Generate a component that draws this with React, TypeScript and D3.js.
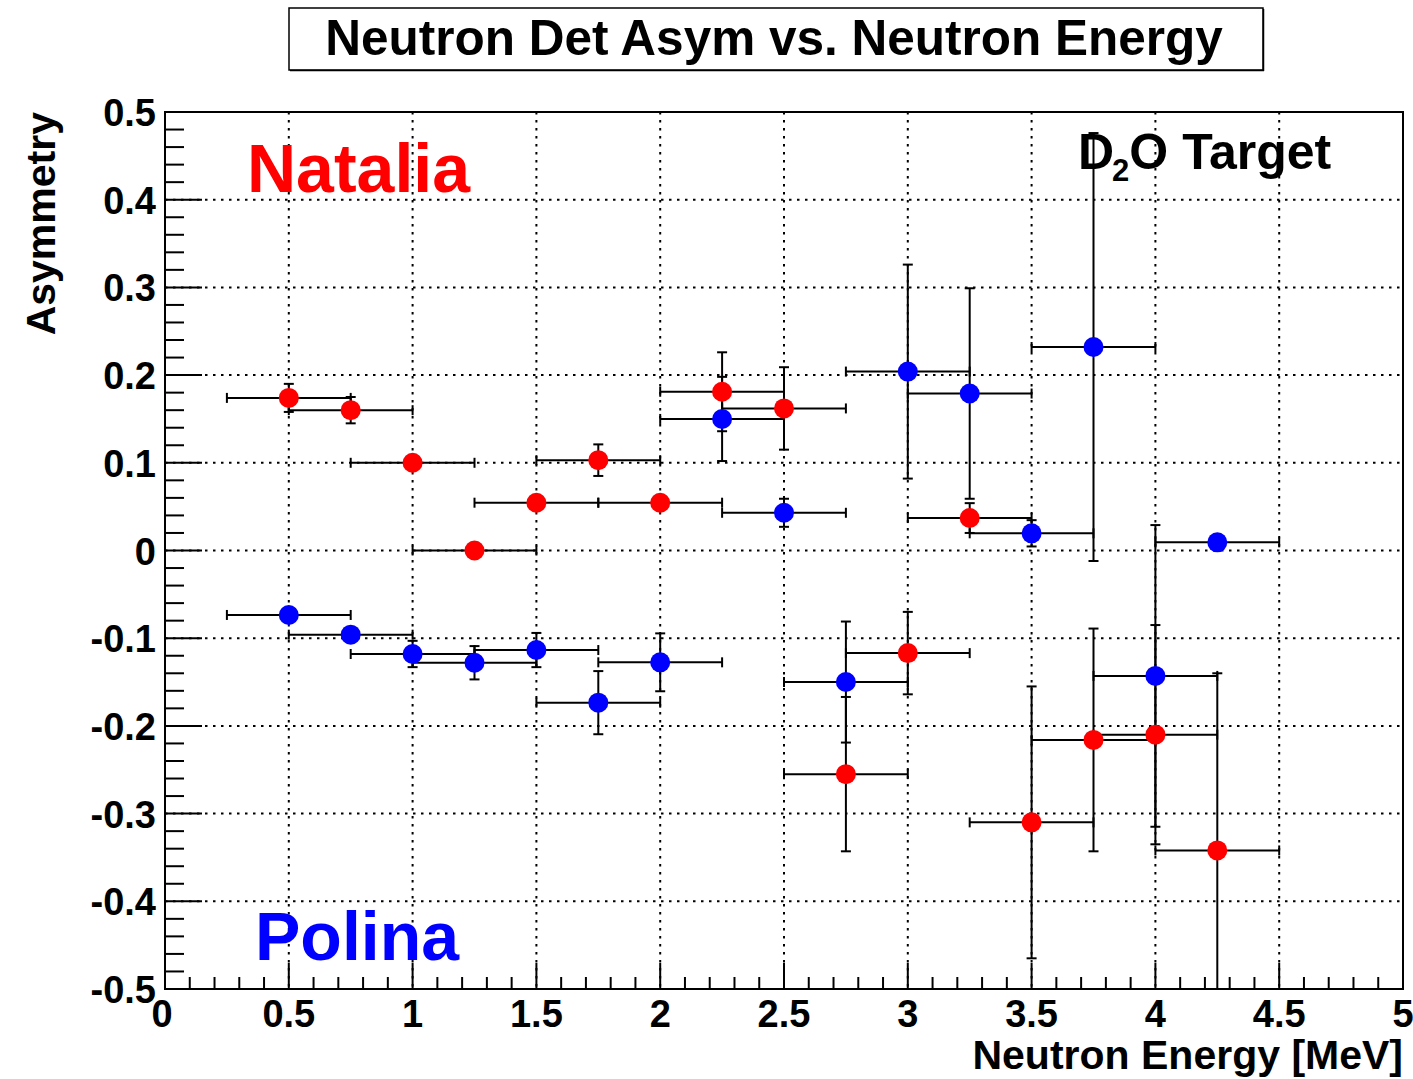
import React from "react";
import * as d3 from "d3";

const energy = [0.5, 0.75, 1.0, 1.25, 1.5, 1.75, 2.0, 2.25, 2.5, 2.75, 3.0, 3.25, 3.5, 3.75, 4.0, 4.25];
const energyErr = [0.25, 0.25, 0.25, 0.25, 0.25, 0.25, 0.25, 0.25, 0.25, 0.25, 0.25, 0.25, 0.25, 0.25, 0.25, 0.25];
const nataliaAsym = [0.174, 0.16, 0.1, 0.0, 0.0545, 0.103, 0.0545, 0.181, 0.162, -0.255, -0.117, 0.037, -0.31, -0.216, -0.21, -0.342];
const nataliaErr = [0.016, 0.015, 0.004, 0.004, 0.004, 0.018, 0.004, 0.045, 0.047, 0.088, 0.047, 0.017, 0.155, 0.127, 0.125, 0.202];
const polinaAsym = [-0.0735, -0.096, -0.118, -0.128, -0.1135, -0.1735, -0.1275, 0.15, 0.043, -0.15, 0.204, 0.179, 0.0196, 0.232, -0.143, 0.0093];
const polinaErr = [0.006, 0.006, 0.015, 0.019, 0.0195, 0.036, 0.033, 0.048, 0.016, 0.069, 0.122, 0.12, 0.015, 0.244, 0.172, 0.006];

const xTicks = [0, 0.5, 1, 1.5, 2, 2.5, 3, 3.5, 4, 4.5, 5];
const yTicks = [-0.5, -0.4, -0.3, -0.2, -0.1, 0, 0.1, 0.2, 0.3, 0.4, 0.5];

const FONT = "'Liberation Sans', Arial, Helvetica, sans-serif";
const W = 1413;
const H = 1079;
const L = 165, R = 1403, T = 112, B = 989;
const RADIUS = 10;
const CAP = 5;

const x = d3.scaleLinear().domain([0, 5]).range([L, R]);
const y = d3.scaleLinear().domain([-0.5, 0.5]).range([B, T]);

function fmtX(v: number) {
  return String(v);
}
function fmtY(v: number) {
  if (Math.abs(v) < 1e-9) return "0";
  return (v < 0 ? "-" : "") + Math.abs(v).toFixed(1);
}

type Series = { asym: number[]; err: number[]; color: string };
const series: Series[] = [
  { asym: nataliaAsym, err: nataliaErr, color: "#ff0000" },
  { asym: polinaAsym, err: polinaErr, color: "#0000ff" },
];

function ErrorBars({ s }: { s: Series }) {
  const els: React.ReactNode[] = [];
  const [ymin, ymax] = y.domain();
  energy.forEach((e, i) => {
    const v = s.asym[i];
    const cx = x(e);
    const cy = y(v);
    const x0 = x(e - energyErr[i]);
    const x1 = x(e + energyErr[i]);
    els.push(<line key={`h${i}`} x1={x0} x2={x1} y1={cy} y2={cy} />);
    els.push(<line key={`hc0${i}`} x1={x0} x2={x0} y1={cy - CAP} y2={cy + CAP} />);
    els.push(<line key={`hc1${i}`} x1={x1} x2={x1} y1={cy - CAP} y2={cy + CAP} />);
    const lo = v - s.err[i];
    const hi = v + s.err[i];
    const pyLo = y(Math.max(lo, ymin));
    const pyHi = y(Math.min(hi, ymax));
    if (Math.abs(y(lo) - cy) > RADIUS) {
      els.push(<line key={`v${i}`} x1={cx} x2={cx} y1={pyHi} y2={pyLo} />);
      if (lo >= ymin) els.push(<line key={`vc0${i}`} x1={cx - CAP} x2={cx + CAP} y1={pyLo} y2={pyLo} />);
      if (hi <= ymax) els.push(<line key={`vc1${i}`} x1={cx - CAP} x2={cx + CAP} y1={pyHi} y2={pyHi} />);
    }
  });
  return <g stroke="#000" strokeWidth={2}>{els}</g>;
}

export default function App() {
  const xMinor = d3.range(0, 5.0001, 0.1);
  const yMinor = d3.range(-0.5, 0.5001, 0.02);
  return (
    <svg
      width={W}
      height={H}
      style={{ position: "absolute", left: 0, top: 0, background: "#fff" }}
      fontFamily={FONT}
    >
      <rect x={0} y={0} width={W} height={H} fill="#fff" />
      {/* title box */}
      <rect x={289} y={8} width={974} height={62} fill="#fff" stroke="#000" strokeWidth={1.5} />
      <line x1={290} x2={1264} y1={70.5} y2={70.5} stroke="#000" strokeWidth={1.5} />
      <line x1={1263.5} x2={1263.5} y1={9} y2={71} stroke="#000" strokeWidth={1.5} />
      <text x={774} y={55} textAnchor="middle" fontSize={49.5} fontWeight="bold">
        Neutron Det Asym vs. Neutron Energy
      </text>

      {/* grid */}
      <g stroke="#000" strokeWidth={2} strokeDasharray="2.5,5.5">
        {xTicks.slice(1, -1).map((t) => (
          <line key={`gx${t}`} x1={x(t)} x2={x(t)} y1={T} y2={B} />
        ))}
        {yTicks.slice(1, -1).map((t) => (
          <line key={`gy${t}`} x1={L} x2={R} y1={y(t)} y2={y(t)} />
        ))}
      </g>

      {/* ticks */}
      <g stroke="#000" strokeWidth={2}>
        {xMinor.map((t, i) => {
          const major = i % 5 === 0;
          return <line key={`xt${i}`} x1={x(t)} x2={x(t)} y1={B} y2={B - (major ? 26 : 12)} />;
        })}
        {yMinor.map((t, i) => {
          const major = i % 5 === 0;
          return <line key={`yt${i}`} x1={L} x2={L + (major ? 37 : 19)} y1={y(t)} y2={y(t)} />;
        })}
      </g>

      {/* frame */}
      <rect x={L} y={T} width={R - L} height={B - T} fill="none" stroke="#000" strokeWidth={2} />

      {/* tick labels */}
      <g fontSize={38} fontWeight="bold">
        {xTicks.map((t) => (
          <text key={`xl${t}`} x={x(t) - (t === 0 ? 3 : 0)} y={1027} textAnchor="middle">
            {fmtX(t)}
          </text>
        ))}
        {yTicks.map((t) => (
          <text key={`yl${t}`} x={156} y={y(t) + 14} textAnchor="end">
            {fmtY(t)}
          </text>
        ))}
      </g>

      {/* axis titles */}
      <text x={1403} y={1069} textAnchor="end" fontSize={41} fontWeight="bold">
        Neutron Energy [MeV]
      </text>
      <text
        transform="translate(55,112) rotate(-90)"
        textAnchor="end"
        fontSize={41}
        fontWeight="bold"
      >
        Asymmetry
      </text>

      {/* data */}
      <defs>
        <clipPath id="plotclip">
          <rect x={L} y={T} width={R - L} height={B - T} />
        </clipPath>
      </defs>
      <g clipPath="url(#plotclip)">
        {series.map((s, k) => (
          <ErrorBars key={`eb${k}`} s={s} />
        ))}
        {series.map((s, k) => (
          <g key={`mk${k}`} fill={s.color}>
            {energy.map((e, i) => (
              <circle key={i} cx={x(e)} cy={y(s.asym[i])} r={RADIUS} />
            ))}
          </g>
        ))}
      </g>

      {/* labels */}
      <text x={247} y={192} fontSize={68} fontWeight="bold" fill="#ff0000">
        Natalia
      </text>
      <text x={255} y={960} fontSize={68} fontWeight="bold" fill="#0000ff">
        Polina
      </text>
      <text x={1078} y={169} fontSize={50} fontWeight="bold" fill="#000">
        D
        <tspan fontSize={31} dy={12} dx={-2}>2</tspan>
        <tspan dy={-12}>O Target</tspan>
      </text>
    </svg>
  );
}
